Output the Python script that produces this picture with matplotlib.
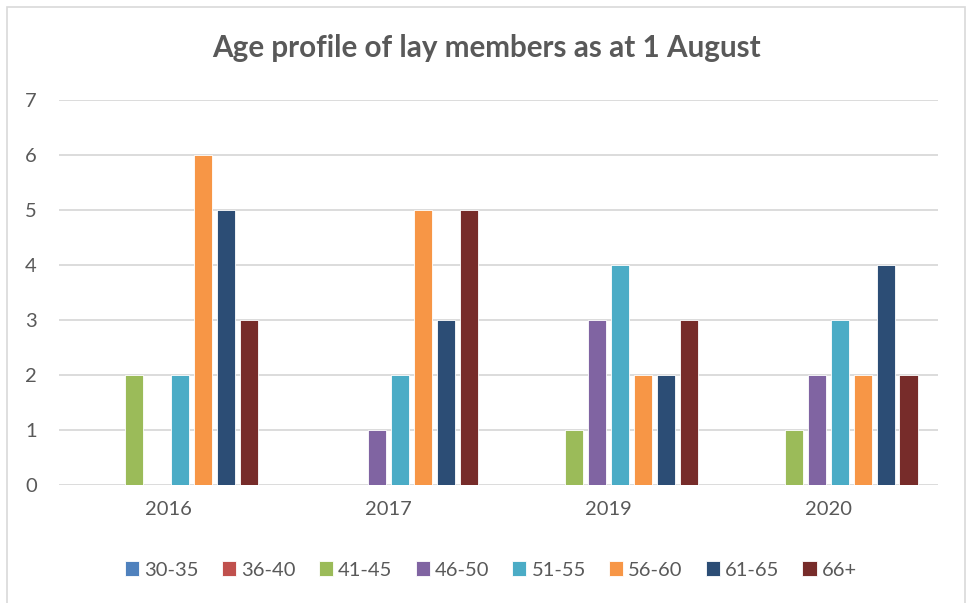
import matplotlib
matplotlib.use("Agg")
import matplotlib.pyplot as plt
from matplotlib.patches import Rectangle
import numpy as np

plt.rcParams['font.family'] = ['Lato', 'DejaVu Sans']

categories = ["2016", "2017", "2019", "2020"]
series_names = ["30-35", "36-40", "41-45", "46-50", "51-55", "56-60", "61-65", "66+"]
values = {
    "30-35": [0, 0, 0, 0],
    "36-40": [0, 0, 0, 0],
    "41-45": [2, 0, 1, 1],
    "46-50": [0, 1, 3, 2],
    "51-55": [2, 2, 4, 3],
    "56-60": [6, 5, 2, 2],
    "61-65": [5, 3, 2, 4],
    "66+":   [3, 5, 3, 2],
}
colors = ["#4F81BD", "#C0504D", "#9BBB59", "#8064A2", "#4BACC6", "#F79646", "#2C4D75", "#772C2A"]
title = "Age profile of lay members as at 1 August"
yticks = [0, 1, 2, 3, 4, 5, 6, 7]

W, H = 967, 603
fig = plt.figure(figsize=(W / 100, H / 100), dpi=100)
fig.patch.set_facecolor("white")
# chart border
fig.patches.append(Rectangle((7 / W, -0.01), (965 - 7) / W, 1 - 7 / H + 0.01,
                             transform=fig.transFigure, fill=False,
                             edgecolor="#D9D9D9", linewidth=1.2))

ax = fig.add_axes([59 / W, 1 - 484.5 / H, (938 - 59) / W, (484.5 - 100) / H])
x = np.arange(len(categories))
pitch = 0.1045
width = 0.082
n = len(series_names)
for j, name in enumerate(series_names):
    ax.bar(x + (j - (n - 1) / 2) * pitch, values[name], width=width,
           color=colors[j], edgecolor="white", linewidth=0.6, label=name, zorder=3)

ax.set_xlim(-0.5, len(categories) - 0.5)
ax.set_ylim(0, 7)
ax.set_yticks(yticks)
ax.set_xticks(x)
ax.set_xticklabels(categories)
ax.grid(axis="y", color="#D9D9D9", linewidth=1.3, zorder=0)
for s in ax.spines.values():
    s.set_visible(False)
ax.tick_params(axis="both", length=0, labelsize=14.5, colors="#595959")
ax.tick_params(axis="y", pad=16)
ax.tick_params(axis="x", pad=12)

fig.text(486 / W, 1 - 48 / H, title, ha="center", va="center",
         fontsize=21.3, fontweight="bold", color="#595959")

leg = fig.legend(loc="center", bbox_to_anchor=(491 / W, 1 - 570 / H), ncol=n,
                 frameon=False, fontsize=14.5, handlelength=0.7, handleheight=0.7,
                 handletextpad=0.25, columnspacing=1.15, labelcolor="#595959")

fig.savefig("out.png", dpi=100, facecolor="white")
